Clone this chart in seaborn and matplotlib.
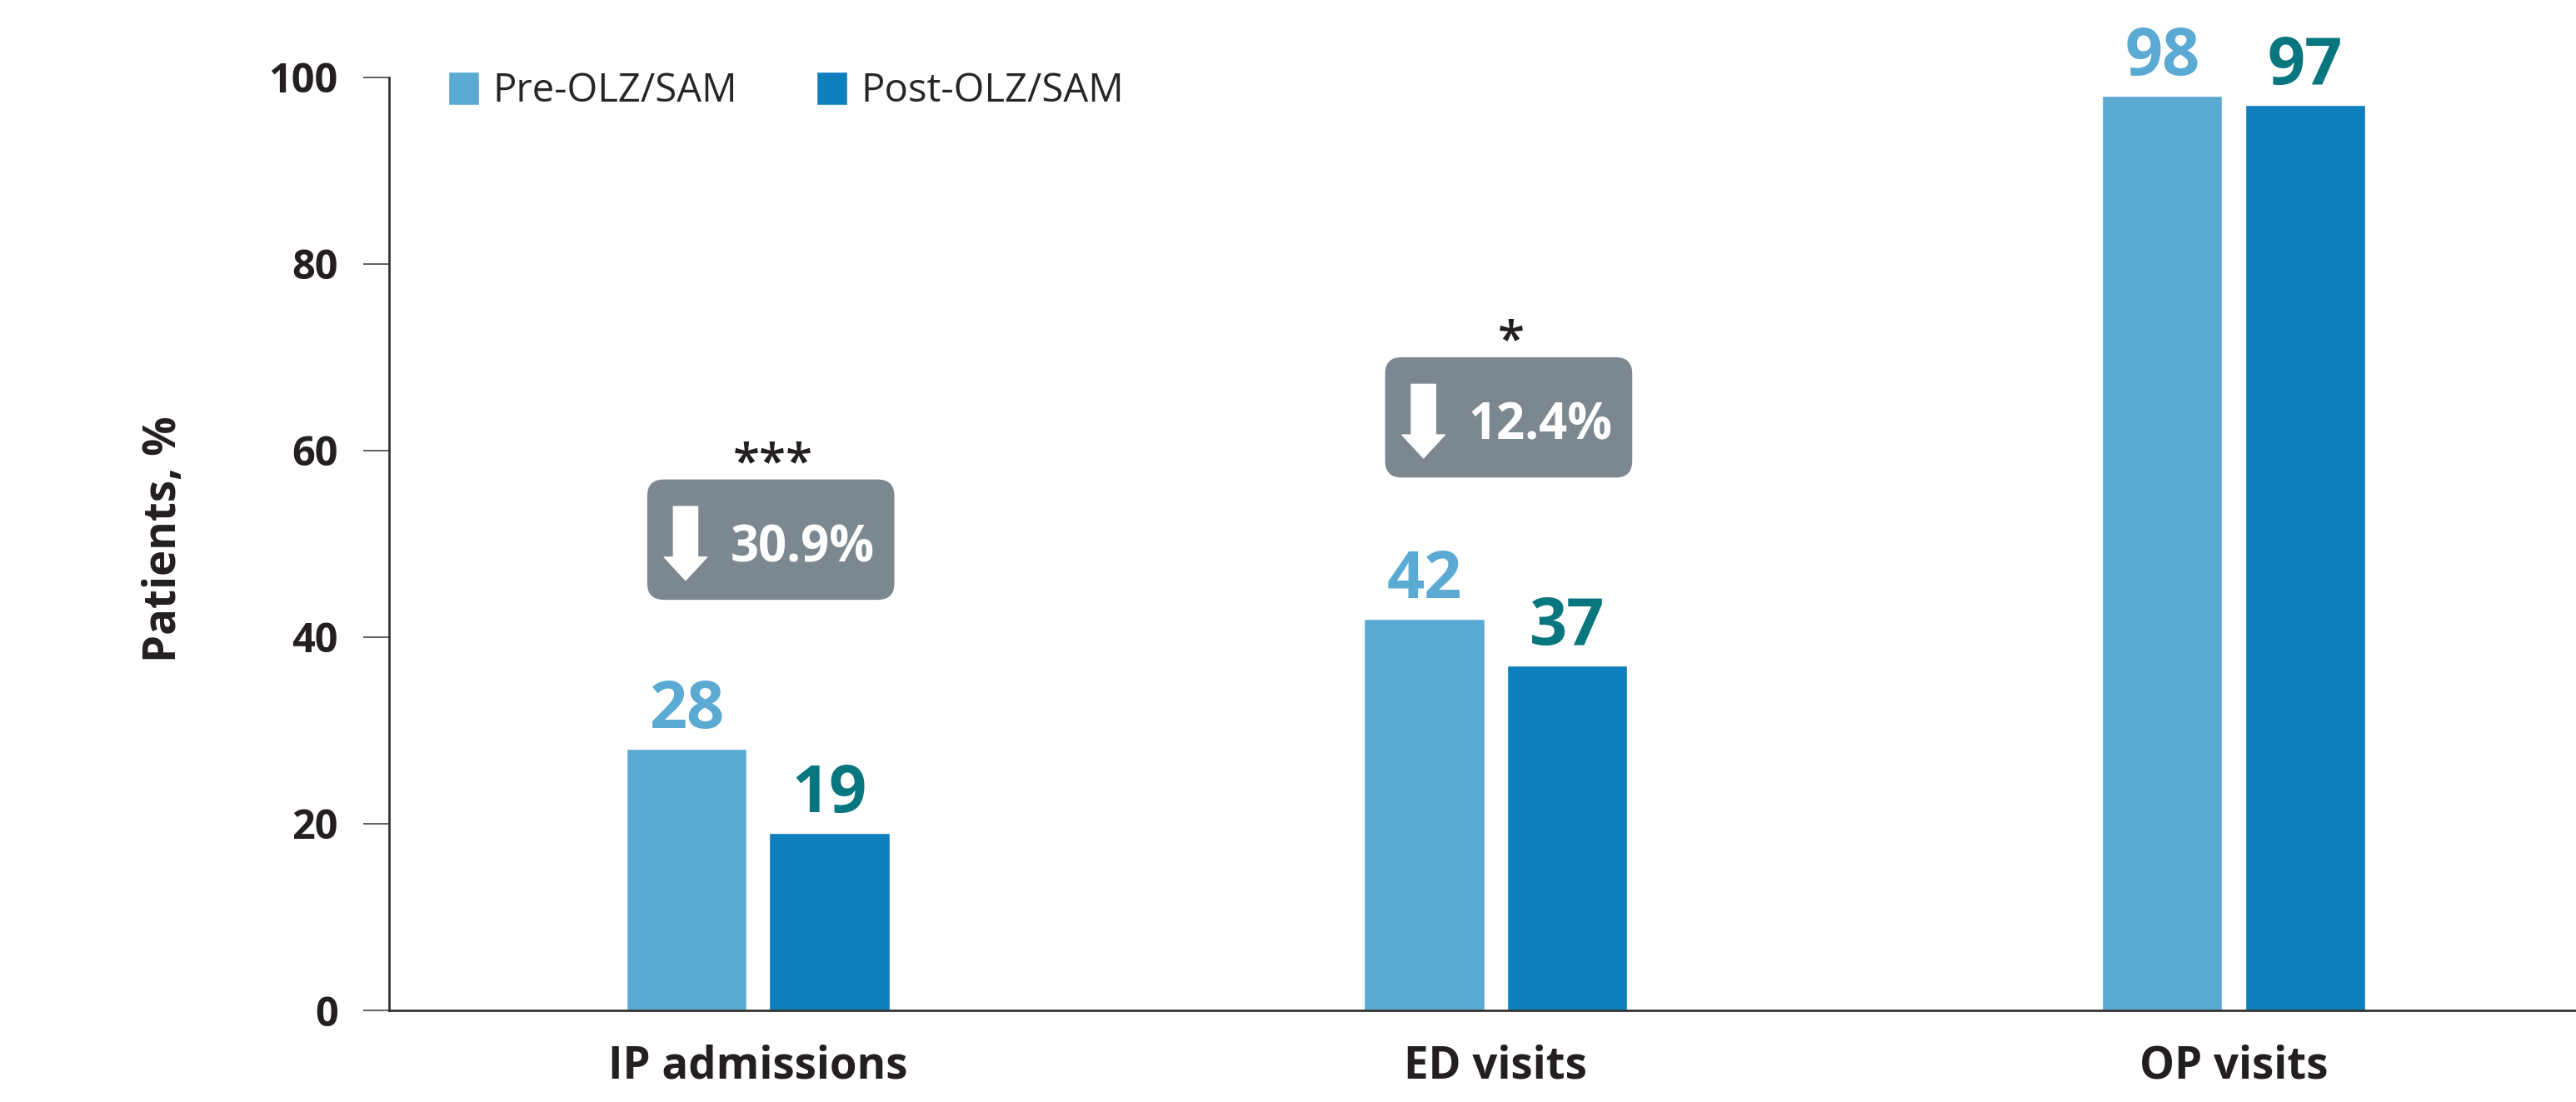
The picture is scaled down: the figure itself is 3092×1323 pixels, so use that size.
import pandas as pd
import seaborn as sns
import matplotlib.pyplot as plt
from matplotlib.patches import FancyBboxPatch

# data
categories = ['IP admissions', 'ED visits', 'OP visits']
periods = ['Pre-OLZ/SAM', 'Post-OLZ/SAM']
pre_vals = [28, 42, 98]
post_vals = [19, 37, 97]
drop_text = ['30.9%', '12.4%', None]
sig_text = ['***', '*', None]
box_bottom = [44.0, 57.1, None]

bar_colors = ['#5AAAD4', '#0F7EBD']
label_colors = ['#5AAAD4', '#08767E']
box_color = '#7C8890'
ink = '#231F20'

df = pd.DataFrame({
    'category': categories * 2,
    'period': [periods[0]] * 3 + [periods[1]] * 3,
    'value': pre_vals + post_vals,
})

sns.set_theme(style='white')
plt.rcParams['font.family'] = ['Open Sans', 'DejaVu Sans']

fig = plt.figure(figsize=(30.92, 13.23), dpi=100)
ax = fig.add_axes([0.151, 0.0831, 0.849, 0.8468])

sns.barplot(data=df, x='category', y='value', hue='period', order=categories,
            hue_order=periods, palette=bar_colors, saturation=1, errorbar=None,
            width=0.388, gap=0.16, ax=ax)

ax.set_xlim(-0.5, 2.464)
ax.set_ylim(0, 100)
ax.set_yticks([0, 20, 40, 60, 80, 100])

# value labels above bars
for cont, col in zip(ax.containers, label_colors):
    txts = ax.bar_label(cont, padding=18, color=col, fontsize=57, fontweight='bold')
    for t in txts:
        t.set_va('baseline')
        t.set_clip_on(False)

# legend
handles, labels = ax.get_legend_handles_labels()
ax.legend(handles, labels, loc='center left', bbox_to_anchor=(0.027, 0.985),
          ncol=2, frameon=False, fontsize=34, handlelength=0.78, handleheight=0.95,
          handletextpad=0.36, columnspacing=2.0, borderpad=0, borderaxespad=0)

# axes styling
sns.despine(ax=ax)
for s in ['left', 'bottom']:
    ax.spines[s].set_color('#333333')
    ax.spines[s].set_linewidth(2)
ax.tick_params(axis='y', length=22, width=1.1, color='#333333', pad=22,
               labelsize=35, labelcolor=ink, left=True)
ax.tick_params(axis='x', length=0, pad=29, labelsize=38, labelcolor=ink)
for lab in ax.get_yticklabels() + ax.get_xticklabels():
    lab.set_fontweight('bold')
ax.set_xlabel('')
ax.set_ylabel('Patients, %', fontsize=38, fontweight='bold', color=ink, va='center')
ax.yaxis.set_label_coords(-0.103, 0.505)

# grey "decrease" boxes
x0, y0 = ax.transData.transform((0, 0))
x1, y1 = ax.transData.transform((1, 1))
px_x, px_y = x1 - x0, y1 - y0
r = 20 / px_x
for i, (dt, st, bb) in enumerate(zip(drop_text, sig_text, box_bottom)):
    if dt is None:
        continue
    box = FancyBboxPatch((i - 0.150, bb), 0.335, 12.9,
                         boxstyle=f'round,pad=0,rounding_size={r}',
                         mutation_aspect=px_x / px_y,
                         facecolor=box_color, edgecolor='none', zorder=3)
    ax.add_patch(box)
    ax.annotate('', xy=(i - 0.098, bb + 2.1), xytext=(i - 0.098, bb + 10.0),
                arrowprops=dict(arrowstyle='simple,head_length=20,head_width=37,tail_width=21',
                                mutation_scale=1, color='white', shrinkA=0, shrinkB=0),
                zorder=4)
    ax.text(i + 0.060, bb + 4.1, dt, ha='center', va='baseline', fontsize=43,
            fontweight='bold', color='white', zorder=4)
    ax.text(i + 0.021, bb + 12.9 + 0.2, st, ha='center', va='baseline', fontsize=42,
            fontweight='semibold', color=ink, zorder=4)

fig.savefig('out.png', dpi=100, facecolor='white')
